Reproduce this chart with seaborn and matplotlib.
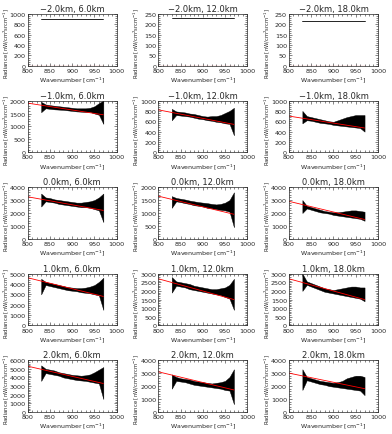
import numpy as np
import pandas as pd
import matplotlib
matplotlib.use("Agg")
import matplotlib.pyplot as plt
import seaborn as sns
from matplotlib.ticker import MultipleLocator

sns.set_style("ticks")
plt.rcParams["font.family"] = ["DejaVu Sans"]

# ── Data ──────────────────────────────────────────────────────────────────────
heights  = ["-2.0km", "-1.0km", "0.0km", "1.0km", "2.0km"]   # rows
ranges   = ["6.0km", "12.0km", "18.0km"]                       # columns
wn_band  = [830, 840, 850, 860, 870, 880, 890, 900, 910, 920, 930, 940, 950, 960, 970]
wn_fit   = [800, 970]

# y-axis top and tick step per panel
ymax  = [[1000, 250, 250], [2000, 1000, 1000], [4000, 2000, 4000],
         [5000, 3000, 3000], [6000, 4000, 4000]]
ystep = [[200, 50, 50], [500, 200, 200], [1000, 500, 1000],
         [1000, 500, 500], [1000, 1000, 1000]]

# top row: flat measured level, fitted line at zero
flat_level = [900, 230, 215]
flat_fit   = [0, 0]

# fitted (red) line ends at 800 and 970 cm-1
fit_ends = {
    (1, 0): [1900, 1450], (1, 1): [820, 540],   (1, 2): [700, 470],
    (2, 0): [3250, 2200], (2, 1): [1650, 950],  (2, 2): [2900, 1500],
    (3, 0): [4600, 2800], (3, 1): [2700, 1500], (3, 2): [2700, 1500],
    (4, 0): [5300, 3300], (4, 1): [3100, 1700], (4, 2): [3000, 1800],
}

# upper / lower envelope of the measured spectrum
band_hi = {
    (1, 0): [1950, 1850, 1820, 1800, 1780, 1760, 1740, 1720, 1700, 1700, 1700, 1720, 1780, 1900, 2000],
    (1, 1): [840, 790, 780, 770, 750, 740, 720, 700, 690, 700, 700, 720, 760, 800, 860],
    (1, 2): [800, 700, 680, 660, 640, 620, 600, 590, 620, 650, 680, 700, 720, 720, 720],
    (2, 0): [3500, 3200, 3150, 3050, 3000, 2950, 2900, 2850, 2800, 2800, 2850, 2900, 3000, 3200, 3500],
    (2, 1): [1650, 1580, 1550, 1520, 1480, 1450, 1420, 1400, 1380, 1350, 1330, 1350, 1400, 1500, 1800],
    (2, 2): [3000, 2550, 2450, 2350, 2250, 2150, 2100, 2050, 2050, 2100, 2150, 2200, 2200, 2150, 2100],
    (3, 0): [4500, 4200, 4100, 4000, 3900, 3800, 3700, 3650, 3600, 3600, 3650, 3750, 3900, 4200, 4600],
    (3, 1): [2800, 2550, 2500, 2450, 2400, 2300, 2250, 2200, 2150, 2100, 2100, 2150, 2200, 2350, 2700],
    (3, 2): [3000, 2550, 2450, 2350, 2250, 2150, 2100, 2050, 2100, 2150, 2200, 2250, 2250, 2200, 2200],
    (4, 0): [5400, 5000, 4900, 4800, 4600, 4500, 4400, 4300, 4250, 4200, 4250, 4350, 4600, 4900, 5200],
    (4, 1): [2900, 2700, 2600, 2550, 2500, 2400, 2350, 2300, 2250, 2200, 2250, 2300, 2400, 2700, 3300],
    (4, 2): [3300, 2700, 2600, 2500, 2400, 2350, 2300, 2250, 2300, 2400, 2600, 2700, 2800, 2800, 2700],
}
band_lo = {
    (1, 0): [1550, 1700, 1680, 1660, 1650, 1640, 1620, 1600, 1580, 1570, 1560, 1560, 1500, 1450, 1100],
    (1, 1): [620, 720, 710, 700, 690, 670, 650, 640, 620, 610, 590, 580, 560, 550, 330],
    (1, 2): [560, 620, 610, 590, 570, 560, 550, 530, 520, 510, 500, 490, 480, 470, 400],
    (2, 0): [2500, 2900, 2850, 2800, 2700, 2650, 2600, 2550, 2500, 2450, 2450, 2400, 2300, 2200, 1300],
    (2, 1): [1200, 1450, 1420, 1380, 1350, 1300, 1280, 1250, 1200, 1180, 1150, 1120, 1100, 1050, 450],
    (2, 2): [2000, 2350, 2250, 2150, 2050, 2000, 1950, 1850, 1800, 1750, 1700, 1650, 1600, 1550, 1400],
    (3, 0): [3000, 3900, 3800, 3700, 3600, 3500, 3400, 3350, 3300, 3200, 3150, 3100, 3000, 2900, 1500],
    (3, 1): [1900, 2300, 2250, 2200, 2100, 2050, 2000, 1950, 1900, 1850, 1800, 1750, 1650, 1550, 900],
    (3, 2): [2000, 2350, 2250, 2150, 2050, 1950, 1900, 1850, 1800, 1750, 1700, 1650, 1600, 1550, 1400],
    (4, 0): [3600, 4500, 4400, 4300, 4200, 4000, 3900, 3800, 3700, 3650, 3600, 3500, 3400, 3300, 1500],
    (4, 1): [1800, 2400, 2350, 2300, 2200, 2100, 2050, 2000, 1950, 1900, 1850, 1800, 1700, 1650, 600],
    (4, 2): [1700, 2450, 2350, 2250, 2150, 2100, 2000, 1950, 1900, 1850, 1800, 1750, 1700, 1650, 1300],
}

# ── Plot ──────────────────────────────────────────────────────────────────────
fig, axes = plt.subplots(5, 3, figsize=(3.92, 4.35), dpi=100)
fig.subplots_adjust(left=0.071, right=0.964, top=0.9655, bottom=0.0506,
                    wspace=0.47, hspace=0.67)

for r, h in enumerate(heights):
    for c, rg in enumerate(ranges):
        ax = axes[r, c]
        if r == 0:
            sns.lineplot(x=[wn_band[0], wn_band[-1]], y=[flat_level[c]] * 2,
                         color="black", lw=0.6, ax=ax)
            sns.lineplot(x=wn_fit, y=flat_fit, color="red", lw=0.8, ax=ax)
        else:
            ax.fill_between(wn_band, band_lo[(r, c)], band_hi[(r, c)],
                            color="black", lw=0.3)
            sns.lineplot(x=wn_fit, y=fit_ends[(r, c)], color="red", lw=0.6, ax=ax)

        ax.set_xlim(800, 1000)
        ax.set_ylim(0, ymax[r][c])
        ax.xaxis.set_major_locator(MultipleLocator(50))
        ax.xaxis.set_minor_locator(MultipleLocator(10))
        ax.yaxis.set_major_locator(MultipleLocator(ystep[r][c]))
        ax.yaxis.set_minor_locator(MultipleLocator(ystep[r][c] / 5))
        ax.tick_params(which="both", direction="in", top=True, right=True,
                       width=0.4, labelsize=4.6, pad=1.5)
        ax.tick_params(which="major", length=2.5)
        ax.tick_params(which="minor", length=1.2)
        for s in ax.spines.values():
            s.set_linewidth(0.5)
        ax.set_title(f"{h.replace('-', '\u2212')}, {rg}", fontsize=6, pad=2)
        ax.set_xlabel(r"Wavenumber [cm$^{-1}$]", fontsize=4.5, labelpad=1)
        ax.set_ylabel(r"Radiance [nW/cm$^2$srcm$^{-1}$]", fontsize=3.8)
        ax.yaxis.set_label_coords(-0.195, 0.45)

fig.savefig("out.png", dpi=100)
